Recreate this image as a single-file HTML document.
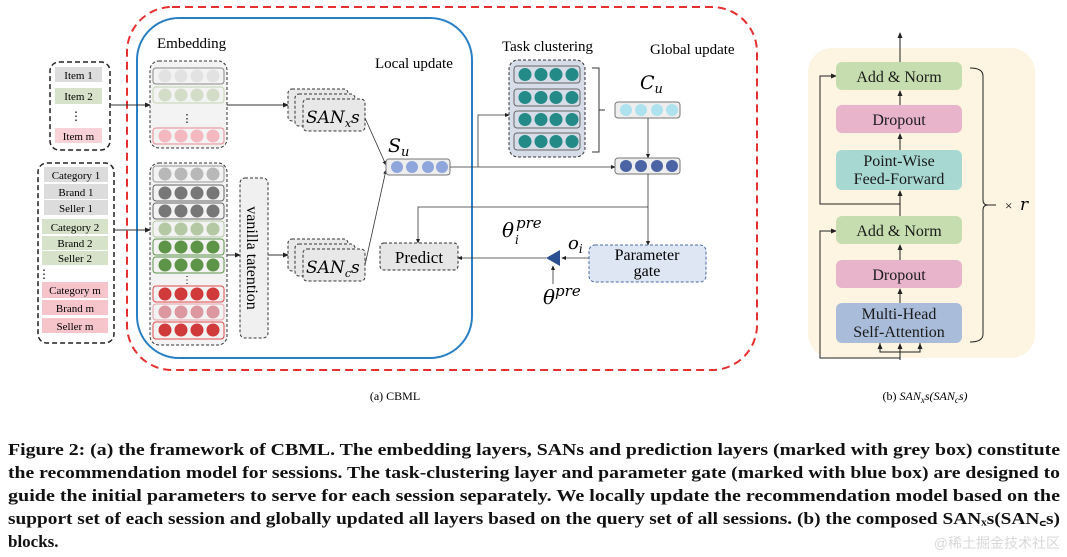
<!DOCTYPE html>
<html><head><meta charset="utf-8"><style>
html,body{margin:0;padding:0;background:#fff;}
svg{display:block;font-family:"Liberation Serif",serif;}
</style></head><body>
<svg width="1067" height="557" viewBox="0 0 1067 557" xmlns="http://www.w3.org/2000/svg">
<defs>
<marker id="ar" markerWidth="6" markerHeight="6" refX="5" refY="3" orient="auto"><path d="M0,0.5 L6,3 L0,5.5z" fill="#222"/></marker>
</defs>
<rect x="127" y="7" width="630" height="363" rx="45" fill="none" stroke="#e53030" stroke-width="2" stroke-dasharray="8,5"/>
<rect x="137" y="18" width="335" height="340" rx="42" fill="none" stroke="#2a7fc4" stroke-width="2"/>
<text x="157" y="48" font-size="15">Embedding</text>
<text x="375" y="68" font-size="15">Local update</text>
<text x="502" y="51" font-size="15">Task clustering</text>
<text x="650" y="54" font-size="15">Global update</text>

<rect x="50" y="62" width="60" height="88" rx="9" fill="#fff" stroke="#222" stroke-width="1.5" stroke-dasharray="5,3"/>
<rect x="55" y="67" width="47" height="15" fill="#dcdcdc"/><text x="78.5" y="79" font-size="11" text-anchor="middle">Item 1</text>
<rect x="55" y="88" width="47" height="16" fill="#d6e2c9"/><text x="78.5" y="100" font-size="11" text-anchor="middle">Item 2</text>
<text x="76" y="120" font-size="12" text-anchor="middle">⋮</text>
<rect x="55" y="128" width="47" height="15" fill="#f8d2d6"/><text x="78.5" y="140" font-size="11" text-anchor="middle">Item m</text>
<rect x="38" y="163" width="76" height="180" rx="9" fill="#fff" stroke="#222" stroke-width="1.5" stroke-dasharray="5,3"/>
<g font-size="11" text-anchor="middle">
<rect x="44" y="167" width="64" height="15" fill="#dcdcdc"/><text x="76" y="179">Category 1</text>
<rect x="44" y="184" width="64" height="15" fill="#dcdcdc"/><text x="76" y="196">Brand 1</text>
<rect x="44" y="200" width="64" height="15" fill="#dcdcdc"/><text x="76" y="212">Seller  1</text>
<rect x="42" y="219" width="66" height="15" fill="#d6e2c9"/><text x="75" y="231">Category 2</text>
<rect x="42" y="236" width="66" height="14" fill="#d6e2c9"/><text x="75" y="247">Brand 2</text>
<rect x="42" y="251" width="66" height="14" fill="#d6e2c9"/><text x="75" y="262">Seller 2</text>
<text x="44" y="278" font-size="12">⋮</text>
<rect x="42" y="282" width="66" height="16" fill="#f6c5cb"/><text x="75" y="294">Category m</text>
<rect x="42" y="300" width="66" height="15" fill="#f6c5cb"/><text x="75" y="312">Brand m</text>
<rect x="42" y="318" width="66" height="15" fill="#f6c5cb"/><text x="75" y="330">Seller m</text>
</g>
<line x1="110" y1="105" x2="150" y2="105" stroke="#333" marker-end="url(#ar)"/>
<line x1="114" y1="230" x2="150" y2="230" stroke="#333" marker-end="url(#ar)"/>

<rect x="150" y="61" width="77" height="87" rx="9" fill="#f3f3f3" stroke="#333" stroke-dasharray="3,2"/>
<g stroke-width="1">
<rect x="153" y="68" width="71" height="16" rx="3" fill="#f3f3f3" stroke="#888"/>
<g fill="#e2e2e2"><circle cx="165" cy="76" r="6.5"/><circle cx="181" cy="76" r="6.5"/><circle cx="197" cy="76" r="6.5"/><circle cx="213" cy="76" r="6.5"/></g>
<rect x="153" y="87" width="71" height="16" rx="3" fill="#f3f3f3" stroke="#c3d3b3"/>
<g fill="#d3dcc6"><circle cx="165" cy="95" r="6.5"/><circle cx="181" cy="95" r="6.5"/><circle cx="197" cy="95" r="6.5"/><circle cx="213" cy="95" r="6.5"/></g>
<text x="187" y="122" font-size="11" text-anchor="middle">⋮</text>
<rect x="153" y="128" width="71" height="16" rx="3" fill="#f3f3f3" stroke="#e88a94"/>
<g fill="#f4b8c0"><circle cx="165" cy="136" r="6.5"/><circle cx="181" cy="136" r="6.5"/><circle cx="197" cy="136" r="6.5"/><circle cx="213" cy="136" r="6.5"/></g>
</g>
<rect x="150" y="163" width="77" height="182" rx="9" fill="#f3f3f3" stroke="#333" stroke-dasharray="3,2"/>
<rect x="153" y="166" width="71" height="16" rx="3" fill="#f3f3f3" stroke="#999"/>
<g fill="#b8b8b8"><circle cx="165" cy="174" r="6.5"/><circle cx="181" cy="174" r="6.5"/><circle cx="197" cy="174" r="6.5"/><circle cx="213" cy="174" r="6.5"/></g>
<rect x="153" y="185" width="71" height="16" rx="3" fill="#f3f3f3" stroke="#666"/>
<g fill="#777"><circle cx="165" cy="193" r="6.5"/><circle cx="181" cy="193" r="6.5"/><circle cx="197" cy="193" r="6.5"/><circle cx="213" cy="193" r="6.5"/></g>
<rect x="153" y="203" width="71" height="16" rx="3" fill="#f3f3f3" stroke="#666"/>
<g fill="#777"><circle cx="165" cy="211" r="6.5"/><circle cx="181" cy="211" r="6.5"/><circle cx="197" cy="211" r="6.5"/><circle cx="213" cy="211" r="6.5"/></g>
<rect x="153" y="221" width="71" height="16" rx="3" fill="#f3f3f3" stroke="#b5c9a5"/>
<g fill="#b3c8a3"><circle cx="165" cy="229" r="6.5"/><circle cx="181" cy="229" r="6.5"/><circle cx="197" cy="229" r="6.5"/><circle cx="213" cy="229" r="6.5"/></g>
<rect x="153" y="239" width="71" height="16" rx="3" fill="#f3f3f3" stroke="#5e9448"/>
<g fill="#5e9448"><circle cx="165" cy="247" r="6.5"/><circle cx="181" cy="247" r="6.5"/><circle cx="197" cy="247" r="6.5"/><circle cx="213" cy="247" r="6.5"/></g>
<rect x="153" y="257" width="71" height="16" rx="3" fill="#f3f3f3" stroke="#5e9448"/>
<g fill="#5e9448"><circle cx="165" cy="265" r="6.5"/><circle cx="181" cy="265" r="6.5"/><circle cx="197" cy="265" r="6.5"/><circle cx="213" cy="265" r="6.5"/></g>
<text x="187" y="283" font-size="10" text-anchor="middle">⋮</text>
<rect x="153" y="286" width="71" height="16" rx="3" fill="#f3f3f3" stroke="#e04a4a"/>
<g fill="#d03a3a"><circle cx="165" cy="294" r="6.5"/><circle cx="181" cy="294" r="6.5"/><circle cx="197" cy="294" r="6.5"/><circle cx="213" cy="294" r="6.5"/></g>
<rect x="153" y="304" width="71" height="16" rx="3" fill="#f3f3f3" stroke="#e8a0a8"/>
<g fill="#dc97a0"><circle cx="165" cy="312" r="6.5"/><circle cx="181" cy="312" r="6.5"/><circle cx="197" cy="312" r="6.5"/><circle cx="213" cy="312" r="6.5"/></g>
<rect x="153" y="322" width="71" height="17" rx="3" fill="#f3f3f3" stroke="#e04a4a"/>
<g fill="#d03a3a"><circle cx="165" cy="330" r="6.5"/><circle cx="181" cy="330" r="6.5"/><circle cx="197" cy="330" r="6.5"/><circle cx="213" cy="330" r="6.5"/></g>

<rect x="240" y="178" width="28" height="160" rx="5" fill="#f0f0f0" stroke="#333" stroke-dasharray="3,2"/>
<text transform="translate(247,258) rotate(90)" font-size="16" text-anchor="middle">vanilla tatention</text>
<line x1="227" y1="255" x2="240" y2="255" stroke="#333" marker-end="url(#ar)"/>
<line x1="268" y1="255" x2="288" y2="255" stroke="#333" marker-end="url(#ar)"/>
<line x1="227" y1="105" x2="288" y2="105" stroke="#333" marker-end="url(#ar)"/>

<g fill="#e8e8e8" stroke="#333" stroke-dasharray="3,2">
<rect x="288" y="89" width="60" height="32" rx="4"/>
<rect x="295" y="94" width="60" height="32" rx="4"/>
<rect x="303" y="99" width="62" height="32" rx="4"/>
<rect x="288" y="239" width="60" height="32" rx="4"/>
<rect x="295" y="244" width="60" height="32" rx="4"/>
<rect x="303" y="249" width="62" height="32" rx="4"/>
</g>
<text x="306" y="123" font-size="17" font-style="italic" font-family="DejaVu Serif,serif">SAN<tspan font-size="11" dy="4">x</tspan><tspan dy="-4">s</tspan></text>
<text x="306" y="273" font-size="17" font-style="italic" font-family="DejaVu Serif,serif">SAN<tspan font-size="11" dy="4">c</tspan><tspan dy="-4">s</tspan></text>
<line x1="365" y1="118" x2="386" y2="165" stroke="#333" stroke-width="0.8" marker-end="url(#ar)"/>
<line x1="365" y1="265" x2="386" y2="170" stroke="#333" stroke-width="0.8" marker-end="url(#ar)"/>

<text x="388" y="152" font-size="19" font-style="italic" font-family="DejaVu Serif,serif">S<tspan font-size="13" dy="4">u</tspan></text>
<rect x="386" y="159" width="64" height="16" rx="3" fill="#eee" stroke="#777"/>
<g fill="#8fa6dc"><circle cx="397" cy="167" r="6"/><circle cx="412" cy="167" r="6"/><circle cx="428" cy="167" r="6"/><circle cx="442" cy="167" r="6"/></g>
<line x1="450" y1="167" x2="615" y2="167" stroke="#333" stroke-width="0.8" marker-end="url(#ar)"/>
<polyline points="478,167 478,115 509,115" fill="none" stroke="#333" stroke-width="0.8" marker-end="url(#ar)"/>

<rect x="509" y="60" width="76" height="97" rx="9" fill="#d6dde8" stroke="#333" stroke-dasharray="3,2"/>
<g fill="#d6dde8" stroke="#666"><rect x="514" y="66" width="66" height="17" rx="3"/><rect x="514" y="89" width="66" height="17" rx="3"/><rect x="514" y="111" width="66" height="17" rx="3"/><rect x="514" y="133" width="66" height="17" rx="3"/></g>
<g fill="#248a88">
<circle cx="525" cy="74.5" r="6.5"/><circle cx="541" cy="74.5" r="6.5"/><circle cx="556" cy="74.5" r="6.5"/><circle cx="572" cy="74.5" r="6.5"/>
<circle cx="525" cy="97.5" r="6.5"/><circle cx="541" cy="97.5" r="6.5"/><circle cx="556" cy="97.5" r="6.5"/><circle cx="572" cy="97.5" r="6.5"/>
<circle cx="525" cy="119.5" r="6.5"/><circle cx="541" cy="119.5" r="6.5"/><circle cx="556" cy="119.5" r="6.5"/><circle cx="572" cy="119.5" r="6.5"/>
<circle cx="525" cy="141.5" r="6.5"/><circle cx="541" cy="141.5" r="6.5"/><circle cx="556" cy="141.5" r="6.5"/><circle cx="572" cy="141.5" r="6.5"/>
</g>
<path d="M592,68 h7 v84 h-7 M599,110 h6" fill="none" stroke="#333"/>
<text x="640" y="89" font-size="19" font-style="italic" font-family="DejaVu Serif,serif">C<tspan font-size="13" dy="4">u</tspan></text>
<rect x="615" y="102" width="65" height="16" rx="3" fill="#eee" stroke="#777"/>
<g fill="#aee2ef"><circle cx="626" cy="110" r="6"/><circle cx="641" cy="110" r="6"/><circle cx="657" cy="110" r="6"/><circle cx="672" cy="110" r="6"/></g>
<line x1="648" y1="118" x2="648" y2="158" stroke="#333" stroke-width="0.8" marker-end="url(#ar)"/>
<rect x="615" y="158" width="65" height="16" rx="3" fill="#eee" stroke="#777"/>
<g fill="#4a64a4"><circle cx="626" cy="166" r="6"/><circle cx="641" cy="166" r="6"/><circle cx="657" cy="166" r="6"/><circle cx="672" cy="166" r="6"/></g>
<line x1="648" y1="174" x2="648" y2="245" stroke="#333" stroke-width="0.8" marker-end="url(#ar)"/>
<polyline points="648,207 418,207 418,243" fill="none" stroke="#333" stroke-width="0.8" marker-end="url(#ar)"/>

<rect x="380" y="243" width="78" height="27" rx="4" fill="#e6e6e6" stroke="#333" stroke-dasharray="3,2"/>
<text x="419" y="263" font-size="17" text-anchor="middle">Predict</text>
<rect x="589" y="245" width="117" height="37" rx="6" fill="#dde6f2" stroke="#4a6aa4" stroke-dasharray="3,2"/>
<text x="647" y="260" font-size="16" text-anchor="middle">Parameter</text>
<text x="647" y="276" font-size="16" text-anchor="middle">gate</text>
<line x1="589" y1="258" x2="562" y2="258" stroke="#333" stroke-width="0.8" marker-end="url(#ar)"/>
<path d="M546,258 L560,250 L560,266z" fill="#2c4f92"/>
<line x1="546" y1="258" x2="458" y2="258" stroke="#333" stroke-width="0.8" marker-end="url(#ar)"/>
<line x1="553" y1="284" x2="553" y2="266" stroke="#333" stroke-width="0.8" marker-end="url(#ar)"/>
<text x="502" y="237" font-size="20" font-style="italic" font-family="DejaVu Serif,serif">θ</text>
<text x="516" y="228" font-size="15" font-style="italic" font-family="DejaVu Serif,serif">pre</text>
<text x="515" y="244" font-size="12" font-style="italic" font-family="DejaVu Serif,serif">i</text>
<text x="543" y="304" font-size="20" font-style="italic" font-family="DejaVu Serif,serif">θ<tspan font-size="15" dy="-8">pre</tspan></text>
<text x="568" y="249" font-size="18" font-style="italic" font-family="DejaVu Serif,serif">o<tspan font-size="12" dy="4">i</tspan></text>

<rect x="808" y="48" width="227" height="310" rx="24" fill="#fdf5e2"/>
<line x1="900" y1="345" x2="900" y2="360" stroke="#222"/>
<line x1="900" y1="62" x2="900" y2="33" stroke="#222" marker-end="url(#ar)"/>
<polyline points="900,358 820,358 820,231 836,231" fill="none" stroke="#222" marker-end="url(#ar)"/>
<polyline points="900,204 820,204 820,76 836,76" fill="none" stroke="#222" marker-end="url(#ar)"/>
<polyline points="880,343 880,352 920,352 920,343" fill="none" stroke="#222"/>
<line x1="880" y1="352" x2="880" y2="344" stroke="#222" marker-end="url(#ar)"/>
<line x1="900" y1="358" x2="900" y2="344" stroke="#222" marker-end="url(#ar)"/>
<line x1="920" y1="352" x2="920" y2="344" stroke="#222" marker-end="url(#ar)"/>
<line x1="900" y1="303" x2="900" y2="289" stroke="#222" marker-end="url(#ar)"/>
<line x1="900" y1="260" x2="900" y2="245" stroke="#222" marker-end="url(#ar)"/>
<line x1="900" y1="216" x2="900" y2="191" stroke="#222" marker-end="url(#ar)"/>
<line x1="900" y1="150" x2="900" y2="134" stroke="#222" marker-end="url(#ar)"/>
<line x1="900" y1="105" x2="900" y2="91" stroke="#222" marker-end="url(#ar)"/>
<g font-size="16" text-anchor="middle" fill="#1a1a1a">
<rect x="836" y="62" width="126" height="28" rx="6" fill="#c6deaf"/><text x="899" y="82">Add &amp; Norm</text>
<rect x="836" y="105" width="126" height="28" rx="6" fill="#e8b4cc"/><text x="899" y="125">Dropout</text>
<rect x="836" y="150" width="126" height="40" rx="6" fill="#a7d8d2"/><text x="899" y="166">Point-Wise</text><text x="899" y="184">Feed-Forward</text>
<rect x="836" y="216" width="126" height="28" rx="6" fill="#c6deaf"/><text x="899" y="236">Add &amp; Norm</text>
<rect x="836" y="260" width="126" height="28" rx="6" fill="#e8b4cc"/><text x="899" y="280">Dropout</text>
<rect x="836" y="303" width="126" height="40" rx="6" fill="#a9bcd9"/><text x="899" y="319">Multi-Head</text><text x="899" y="337">Self-Attention</text>
</g>
<path d="M970,68 q13,0 13,8 v124 q0,5 5,5 q-5,0 -5,5 v124 q0,8 -13,8" fill="none" stroke="#222"/>
<line x1="988" y1="205" x2="996" y2="205" stroke="#222"/>
<text x="1005" y="210" font-size="13">×</text>
<text x="1020" y="210" font-size="17" font-style="italic" font-family="DejaVu Serif,serif">r</text>

<text x="395" y="400" font-size="12" text-anchor="middle">(a)  CBML</text>
<text x="925" y="400" font-size="12" text-anchor="middle">(b) <tspan font-style="italic">SAN<tspan font-size="9" dy="3">x</tspan><tspan dy="-3">s</tspan>(SAN<tspan font-size="9" dy="3">c</tspan><tspan dy="-3">s</tspan>)</tspan></text>

<g font-size="17" font-weight="bold" fill="#111">
<text x="8" y="455" textLength="1052" lengthAdjust="spacingAndGlyphs">Figure 2: (a) the framework of CBML. The embedding layers, SANs and prediction layers (marked with grey box) constitute</text>
<text x="8" y="478" textLength="1052" lengthAdjust="spacingAndGlyphs">the recommendation model for sessions. The task-clustering layer and parameter gate (marked with blue box) are designed to</text>
<text x="8" y="501" textLength="1052" lengthAdjust="spacingAndGlyphs">guide the initial parameters to serve for each session separately. We locally update the recommendation model based on the</text>
<text x="8" y="524" textLength="1052" lengthAdjust="spacingAndGlyphs">support set of each session and globally updated all layers based on the query set of all sessions. (b) the composed SANₓs(SAN꜀s)</text>
<text x="8" y="547">blocks.</text>
</g>
<text x="1060" y="548" font-size="14" fill="#d8d8d8" text-anchor="end" font-family="Liberation Sans,Noto Sans CJK SC,sans-serif">@稀土掘金技术社区</text>
</svg>
</body></html>
